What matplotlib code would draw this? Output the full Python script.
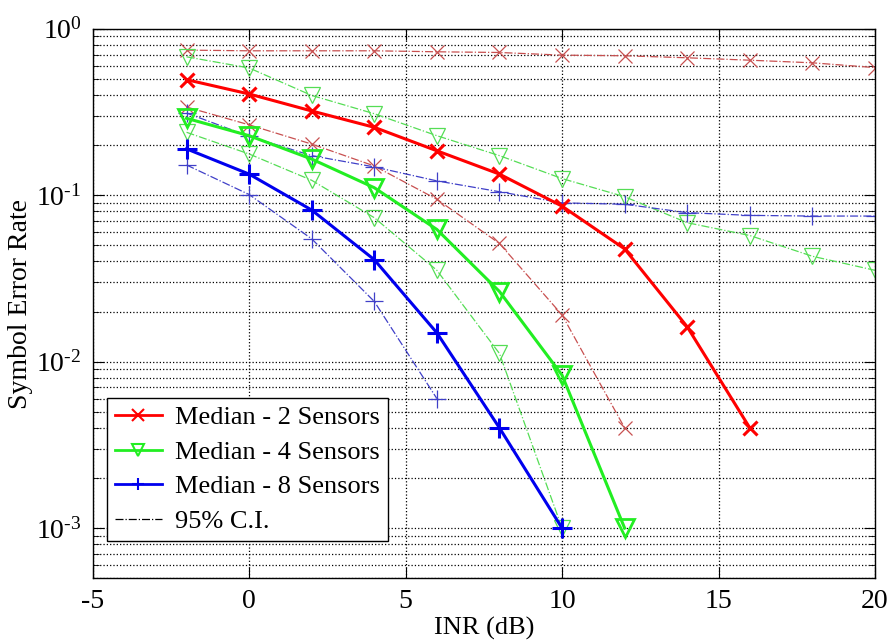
import matplotlib
matplotlib.use('Agg')
import matplotlib.pyplot as plt
from matplotlib.ticker import LogLocator, NullFormatter, FixedLocator, FuncFormatter
import numpy as np

plt.rcParams['font.family'] = ['Liberation Serif', 'DejaVu Serif']
plt.rcParams['mathtext.fontset'] = 'custom'
plt.rcParams['mathtext.rm'] = 'Liberation Serif'
plt.rcParams['mathtext.it'] = 'Liberation Serif'
plt.rcParams['axes.unicode_minus'] = False

inr = [-2, 0, 2, 4, 6, 8, 10, 12, 14, 16, 18, 20]

# medians
med2 = [0.495, 0.406, 0.321, 0.256, 0.185, 0.134, 0.086, 0.0476, 0.0162, 0.004]
med4 = [0.29, 0.228, 0.165, 0.111, 0.0623, 0.0264, 0.0083, 0.001]
med8 = [0.19, 0.134, 0.0815, 0.041, 0.0149, 0.004, 0.001]

# 95% confidence bounds
hi2 = [0.745, 0.738, 0.738, 0.738, 0.728, 0.721, 0.695, 0.689, 0.67, 0.648, 0.625, 0.585]
lo2 = [0.339, 0.265, 0.203, 0.150, 0.0946, 0.0513, 0.0191, 0.004]
hi4 = [0.679, 0.582, 0.398, 0.309, 0.228, 0.173, 0.126, 0.098, 0.0684, 0.0573, 0.043, 0.0354]
lo4 = [0.239, 0.177, 0.123, 0.0733, 0.0354, 0.0112, 0.001]
hi8 = [0.312, 0.226, 0.173, 0.148, 0.122, 0.105, 0.090, 0.0883, 0.0786, 0.0757, 0.075, 0.075]
lo8 = [0.152, 0.101, 0.0547, 0.023, 0.006]

fig = plt.figure(figsize=(8.91, 6.41), dpi=100)
ax = fig.add_axes([0.104, 0.098, 0.878, 0.857])

red = '#ff0000'; green = '#22ee22'; blue = '#0000ee'
ci_red = '#c85050'; ci_green = '#55dd55'; ci_blue = '#4040c8'

ax.plot(inr[:len(hi2)], hi2, '-.', color=ci_red, lw=0.9, marker='x', ms=10, mew=0.9)
ax.plot(inr[:len(lo2)], lo2, '-.', color=ci_red, lw=0.9, marker='x', ms=10, mew=0.9)
ax.plot(inr[:len(hi4)], hi4, '-.', color=ci_green, lw=0.9, marker='v', ms=12, mew=0.9, mfc='none')
ax.plot(inr[:len(lo4)], lo4, '-.', color=ci_green, lw=0.9, marker='v', ms=12, mew=0.9, mfc='none')
ax.plot(inr[:len(hi8)], hi8, '-.', color=ci_blue, lw=0.9, marker='+', ms=13, mew=0.9)
ax.plot(inr[:len(lo8)], lo8, '-.', color=ci_blue, lw=0.9, marker='+', ms=13, mew=0.9)

l1, = ax.plot(inr[:len(med2)], med2, '-', color=red, lw=2.2, marker='x', ms=10, mew=2.2)
l2, = ax.plot(inr[:len(med4)], med4, '-', color=green, lw=2.2, marker='v', ms=13, mew=2.0, mfc='none')
l3, = ax.plot(inr[:len(med8)], med8, '-', color=blue, lw=2.2, marker='+', ms=14, mew=2.2)
l4, = ax.plot([], [], '-.', color='black', lw=0.9)

ax.set_yscale('log')
ax.set_xlim(-5, 20)
ax.set_ylim(5e-4, 1)
ax.xaxis.set_major_locator(FixedLocator([-5, 0, 5, 10, 15, 20]))
ax.yaxis.set_major_locator(LogLocator(base=10, numticks=10))
ax.yaxis.set_minor_locator(LogLocator(base=10, subs=range(2, 10), numticks=20))
ax.yaxis.set_minor_formatter(NullFormatter())
ax.yaxis.set_major_formatter(FuncFormatter(
    lambda v, p: r'$10^{\text{%d}}$' % int(round(np.log10(v)))))

ax.grid(True, which='major', axis='both', color='black', ls=':', lw=0.9)
ax.grid(True, which='minor', axis='y', color='black', ls=':', lw=0.9)
ax.tick_params(which='both', direction='in', top=True, right=True, labelsize=20, pad=8)
ax.tick_params(which='major', length=8)
ax.tick_params(which='minor', length=4)
for s in ax.spines.values():
    s.set_linewidth(1.0)

ax.set_xlabel('INR (dB)', fontsize=19, labelpad=2)
ax.set_ylabel('Symbol Error Rate', fontsize=20, labelpad=2)

leg = ax.legend([l1, l2, l3, l4],
                ['Median - 2 Sensors', 'Median - 4 Sensors', 'Median - 8 Sensors', '95% C.I.'],
                loc='lower left', bbox_to_anchor=(0.018, 0.068), fontsize=19,
                fancybox=False, framealpha=1, edgecolor='black', borderpad=0.3,
                handlelength=1.8, handletextpad=0.5, labelspacing=0.42, borderaxespad=0)
leg.get_frame().set_linewidth(1.0)
for h in leg.legend_handles:
    h.set_markersize(8)
    h.set_linewidth(2.0)
    h.set_markeredgewidth(1.5)
leg.legend_handles[3].set_linewidth(0.9)

fig.savefig('out.png', dpi=100)
